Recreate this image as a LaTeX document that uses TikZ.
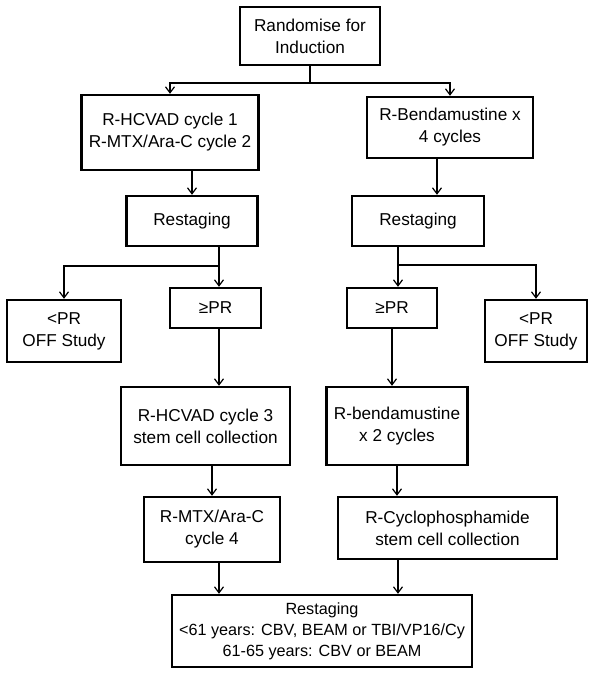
\documentclass[tikz,border=0pt]{standalone}
\usepackage{fontspec}
\setmainfont{Liberation Sans}
\usetikzlibrary{arrows.meta}

\begin{document}
\begin{tikzpicture}[x=1pt,y=-1pt,
        box/.style={draw,line width=2.4pt,align=center,inner sep=0pt,
            font=\fontsize{17.2}{22}\selectfont},
        arr/.style={line width=2.1pt,-{Straight Barb[length=6pt,width=9pt,line width=1.2pt]}},
        conn/.style={line width=2.1pt}]
        \useasboundingbox (0,0) rectangle (604,675);
        \node[box,minimum width=140pt,minimum height=58pt] (rand) at (310,36) {Randomise for\\Induction};
        \node[box,minimum width=177pt,minimum height=75pt] (hcvad1) at (170,132.5) {R-HCVAD cycle 1\\R-MTX/Ara-C cycle 2};
        \node[box,minimum width=166pt,minimum height=61pt] (benda4) at (450,127.5) {R-Bendamustine x\\4 cycles};
        \node[box,minimum width=131pt,minimum height=50pt] (restL) at (192,221) {Restaging};
        \node[box,minimum width=132pt,minimum height=50pt] (restR) at (418,221) {Restaging};
        \node[box,minimum width=114pt,minimum height=62pt] (offL) at (64,331) {<PR\\OFF Study};
        \node[box,minimum width=91pt,minimum height=40pt] (prL) at (215.5,308) {≥PR};
        \node[box,minimum width=90pt,minimum height=40pt] (prR) at (392,308) {≥PR};
        \node[box,minimum width=102pt,minimum height=62pt] (offR) at (536,331) {<PR\\OFF Study};
        \node[box,minimum width=169pt,minimum height=78pt] (hcvad3) at (205.5,426) {R-HCVAD cycle 3\\stem cell collection};
        \node[box,minimum width=141pt,minimum height=78pt] (bendaR) at (397,426) {R-bendamustine\\x 2 cycles};
        \node[box,minimum width=136pt,minimum height=65pt] (mtx4) at (212,529.5) {R-MTX/Ara-C\\cycle 4};
        \node[box,minimum width=219pt,minimum height=62pt] (cyclo) at (447.5,528) {R-Cyclophosphamide\\stem cell collection};
        \node[box,minimum width=300pt,minimum height=72pt,font=\fontsize{16.2}{21}\selectfont] (final) at (322,631) {Restaging\\<61 years: CBV, BEAM or TBI/VP16/Cy\\61-65 years: CBV or BEAM};
        \coordinate (split) at (310,83);
        \coordinate (jB) at (437,180);
        \coordinate (jL) at (219,266);
        \coordinate (jR) at (398,265);
        \draw[conn] (rand.south) -- (split);
        \draw[arr] (split) -| (hcvad1.north);
        \draw[arr] (split) -| (benda4.north);
        \draw[arr] (hcvad1.south -| restL.north) -- (restL.north);
        \draw[arr] (benda4.south -| jB) -- (restR.north -| jB);
        \draw[conn] (restL.south -| jL) -- (jL);
        \draw[arr] (jL) -| (offL.north);
        \draw[arr] (jL) -- (prL.north -| jL);
        \draw[conn] (restR.south -| jR) -- (jR);
        \draw[arr] (jR) -| (offR.north);
        \draw[arr] (jR) -- (prR.north -| jR);
        \draw[arr] (prL.south -| jL) -- (hcvad3.north -| jL);
        \draw[arr] (prR.south) -- (bendaR.north -| prR.south);
        \draw[arr] (hcvad3.south -| mtx4.north) -- (mtx4.north);
        \draw[arr] (bendaR.south) -- (cyclo.north -| bendaR.south);
        \draw[arr] (mtx4.south -| jL) -- (final.north -| jL);
        \draw[arr] (cyclo.south -| jR) -- (final.north -| jR);
    \end{tikzpicture}
\end{document}
